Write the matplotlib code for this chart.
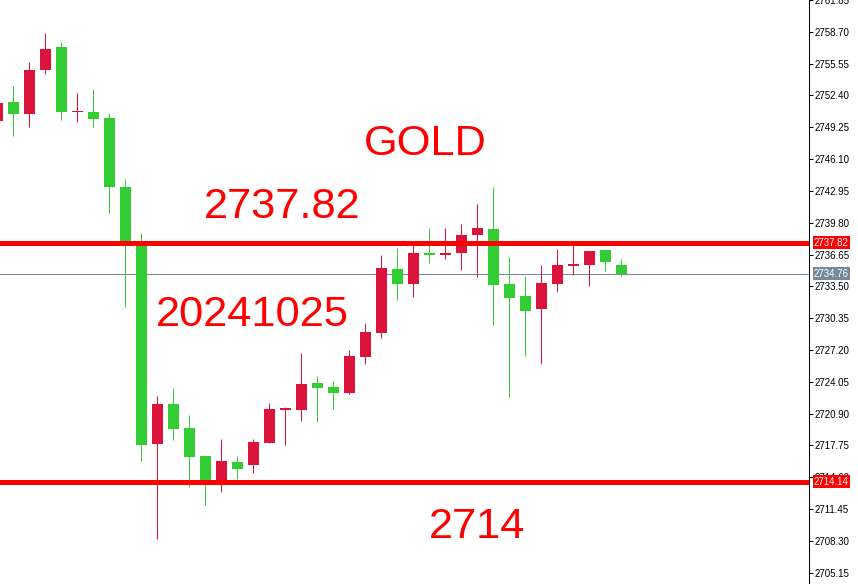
import matplotlib
matplotlib.use("Agg")
import matplotlib.pyplot as plt
import matplotlib.transforms as mtransforms

# ---------------- data ----------------
opens = [2749.90, 2751.78, 2750.53, 2754.94, 2757.22, 2750.72, 2750.79, 2750.13,
         2743.38, 2737.45, 2717.90, 2721.83, 2719.46, 2716.69, 2714.22, 2716.09,
         2715.83, 2718.00, 2721.28, 2721.26, 2723.90, 2723.51, 2722.94, 2726.50,
         2728.88, 2735.17, 2733.72, 2736.85, 2736.59, 2736.78, 2738.56, 2739.13,
         2733.69, 2732.50, 2731.25, 2733.72, 2735.50, 2735.60, 2737.05, 2735.57]
highs = [2752.27, 2753.36, 2755.73, 2758.60, 2757.71, 2752.67, 2753.07, 2750.62,
         2744.17, 2738.83, 2722.62, 2723.41, 2720.74, 2716.69, 2718.37, 2716.69,
         2718.37, 2721.93, 2721.56, 2726.87, 2724.60, 2724.10, 2727.17, 2729.83,
         2736.56, 2737.25, 2737.74, 2739.23, 2739.23, 2739.72, 2741.70, 2743.38,
         2736.36, 2734.48, 2735.57, 2737.15, 2737.84, 2737.00, 2737.05, 2736.16]
lows = [2749.31, 2748.42, 2749.24, 2754.48, 2749.93, 2749.73, 2749.24, 2740.74,
        2731.45, 2716.22, 2708.51, 2718.30, 2713.65, 2711.89, 2713.16, 2714.41,
        2715.04, 2717.95, 2717.80, 2720.18, 2720.08, 2721.36, 2722.82, 2725.78,
        2728.38, 2732.14, 2732.43, 2735.80, 2736.19, 2735.10, 2734.41, 2729.67,
        2722.55, 2726.60, 2725.81, 2732.93, 2734.61, 2733.52, 2735.00, 2734.51]
closes = [2751.68, 2750.53, 2754.94, 2757.02, 2750.72, 2750.80, 2750.03, 2743.31,
          2737.61, 2717.80, 2721.83, 2719.39, 2716.62, 2714.22, 2716.19, 2715.40,
          2718.07, 2721.33, 2721.33, 2723.83, 2723.44, 2722.92, 2726.57, 2728.95,
          2735.27, 2733.72, 2736.85, 2736.59, 2736.85, 2738.63, 2739.23, 2733.62,
          2732.34, 2731.05, 2733.79, 2735.57, 2735.67, 2736.95, 2735.89, 2734.76]

resistance = 2737.82
support = 2714.14
current_price = 2734.76

tick_values = [2705.15, 2708.30, 2711.45, 2714.60, 2717.75, 2720.90, 2724.05,
               2727.20, 2730.35, 2733.50, 2736.65, 2739.80, 2742.95, 2746.10,
               2749.25, 2752.40, 2755.55, 2758.70, 2761.85]
tick_labels = ["2705.15", "2708.30", "2711.45", "2714.60", "2717.75", "2720.90",
               "2724.05", "2727.20", "2730.35", "2733.50", "2736.65", "2739.80",
               "2742.95", "2746.10", "2749.25", "2752.40", "2755.55", "2758.70",
               "2761.85"]

title_text = "GOLD"
resistance_text = "2737.82"
date_text = "20241025"
support_text = "2714"

# ---------------- style ----------------
UP = "#DC143C"
DOWN = "#32CD32"
W, H = 858, 584
PX = 72.0 / 100.0  # points per pixel at dpi 100

fig = plt.figure(figsize=(W / 100, H / 100), dpi=100)
fig.patch.set_facecolor("white")
ax = fig.add_axes([0, 0, 809 / W, 1])
ax.set_facecolor("white")

n = len(opens)
xs = list(range(n))
for i in xs:
    o, h, l, c = opens[i], highs[i], lows[i], closes[i]
    col = UP if c > o else DOWN
    ax.vlines(i, l, h, color=col, linewidth=1.0 * PX, zorder=2)
    bottom = min(o, c)
    height = max(abs(c - o), 0.15)
    ax.bar(i, height, bottom=bottom, width=0.69, color=col, linewidth=0, zorder=2)

ax.axhline(resistance, color="#FF0000", linewidth=5 * PX, zorder=3)
ax.axhline(support, color="#FF0000", linewidth=5 * PX, zorder=3)
ax.axhline(current_price, color="#778899", linewidth=1 * PX, zorder=1)

ax.set_xlim(2.5 / 16, (809 + 2.5) / 16)
ax.set_ylim(2704.03, 2761.76)

for s in ["top", "left", "bottom"]:
    ax.spines[s].set_visible(False)
ax.spines["right"].set_color("black")
ax.spines["right"].set_linewidth(1 * PX)

ax.set_xticks([])
ax.yaxis.tick_right()
ax.set_yticks(tick_values)
ax.set_yticklabels(tick_labels)
ax.tick_params(axis="y", direction="out", length=4 * PX, width=1 * PX,
               pad=2 * PX, labelsize=7, colors="black")
for lab in ax.get_yticklabels():
    lab.set_fontfamily("Liberation Sans")

trans = mtransforms.blended_transform_factory(ax.transAxes, ax.transData)
for val, bg in [(resistance, "#FF0000"), (support, "#FF0000"), (current_price, "#778899")]:
    ax.annotate("%.2f" % val, xy=(1, val), xycoords=trans,
                xytext=(5, 0), textcoords="offset pixels",
                ha="left", va="center", fontsize=7, color="white",
                family="Liberation Sans", annotation_clip=False, zorder=5,
                bbox=dict(boxstyle="square,pad=0.15", fc=bg, ec="none"))

def ftext(x, y, s, ha="left"):
    fig.text(x / W, 1 - y / H, s, ha=ha, va="baseline", fontsize=31.2,
             color="#FF0000", family="Liberation Sans")

ftext(425.5, 155, title_text, ha="center")
ftext(204, 218.5, resistance_text)
ftext(156, 326.5, date_text)
ftext(428.5, 537.5, support_text)

fig.savefig("out.png", dpi=100, facecolor="white")
